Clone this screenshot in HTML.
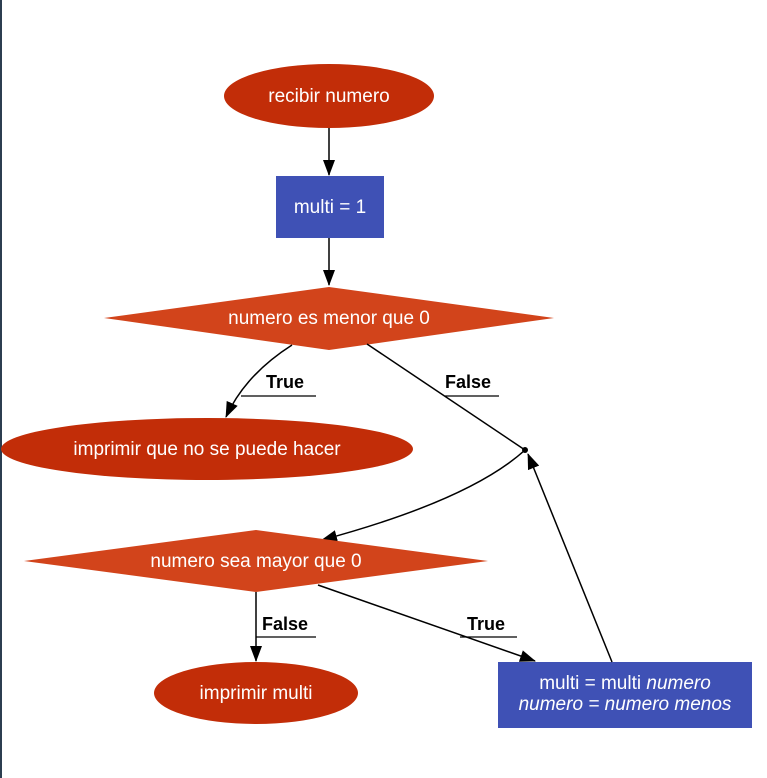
<!DOCTYPE html>
<html><head><meta charset="utf-8"><style>
html,body{margin:0;padding:0;background:#fff;}
svg{display:block;}
text{font-family:"Liberation Sans",sans-serif;}
</style></head><body>
<svg width="767" height="778" viewBox="0 0 767 778" xmlns="http://www.w3.org/2000/svg">
<defs>
<marker id="a" markerWidth="18" markerHeight="14" refX="15" refY="6" orient="auto" markerUnits="userSpaceOnUse">
<path d="M0,0 L16,6 L0,12 z" fill="#000"/></marker>
</defs>
<rect x="0" y="0" width="2" height="778" fill="#2c3e50"/>
<ellipse cx="329" cy="96" rx="105" ry="32" fill="#c22d08"/>
<text x="329" y="102" fill="#fff" font-size="19" text-anchor="middle">recibir numero</text>
<line x1="329" y1="128" x2="329" y2="175" stroke="#000" stroke-width="1.5" marker-end="url(#a)"/>
<rect x="276" y="176" width="108" height="62" fill="#3f51b5"/>
<text x="330" y="213" fill="#fff" font-size="19" text-anchor="middle">multi = 1</text>
<line x1="329" y1="238" x2="329" y2="285" stroke="#000" stroke-width="1.5" marker-end="url(#a)"/>
<polygon points="104,318 329,287 554,318 329,350" fill="#d2441b"/>
<text x="329" y="324" fill="#fff" font-size="19" text-anchor="middle">numero es menor que 0</text>
<ellipse cx="207" cy="449" rx="206" ry="31" fill="#c22d08"/>
<text x="207" y="455" fill="#fff" font-size="19" text-anchor="middle">imprimir que no se puede hacer</text>
<path d="M292,345 Q245,375 226,417" fill="none" stroke="#000" stroke-width="1.5" marker-end="url(#a)"/>
<text x="266" y="388" font-size="18" font-weight="bold">True</text>
<line x1="241" y1="396" x2="316" y2="396" stroke="#000" stroke-width="1.2"/>
<line x1="367" y1="344" x2="525" y2="450" stroke="#000" stroke-width="1.5"/>
<text x="445" y="388" font-size="18" font-weight="bold">False</text>
<line x1="445" y1="396" x2="499" y2="396" stroke="#000" stroke-width="1.2"/>
<circle cx="525" cy="450" r="3" fill="#000"/>
<path d="M525,450 Q470,500 322,540" fill="none" stroke="#000" stroke-width="1.5" marker-end="url(#a)"/>
<polygon points="24,561 256,530 488,561 256,592" fill="#d2441b"/>
<text x="256" y="567" fill="#fff" font-size="19" text-anchor="middle">numero sea mayor que 0</text>
<line x1="256" y1="592" x2="256" y2="661" stroke="#000" stroke-width="1.5" marker-end="url(#a)"/>
<text x="262" y="630" font-size="18" font-weight="bold">False</text>
<line x1="256" y1="637" x2="316" y2="637" stroke="#000" stroke-width="1.2"/>
<ellipse cx="256" cy="693" rx="102" ry="31" fill="#c22d08"/>
<text x="256" y="699" fill="#fff" font-size="19" text-anchor="middle">imprimir multi</text>
<line x1="318" y1="585" x2="535" y2="661" stroke="#000" stroke-width="1.5" marker-end="url(#a)"/>
<text x="467" y="630" font-size="18" font-weight="bold">True</text>
<line x1="460" y1="637" x2="517" y2="637" stroke="#000" stroke-width="1.2"/>
<rect x="498" y="662" width="254" height="66" fill="#3f51b5"/>
<text x="625" y="689" fill="#fff" font-size="19" text-anchor="middle">multi = multi  <tspan font-style="italic">numero</tspan></text>
<text x="625" y="710" fill="#fff" font-size="19" font-style="italic" text-anchor="middle">numero = numero menos</text>
<line x1="612" y1="662" x2="528" y2="454" stroke="#000" stroke-width="1.5" marker-end="url(#a)"/>
</svg>
</body></html>
